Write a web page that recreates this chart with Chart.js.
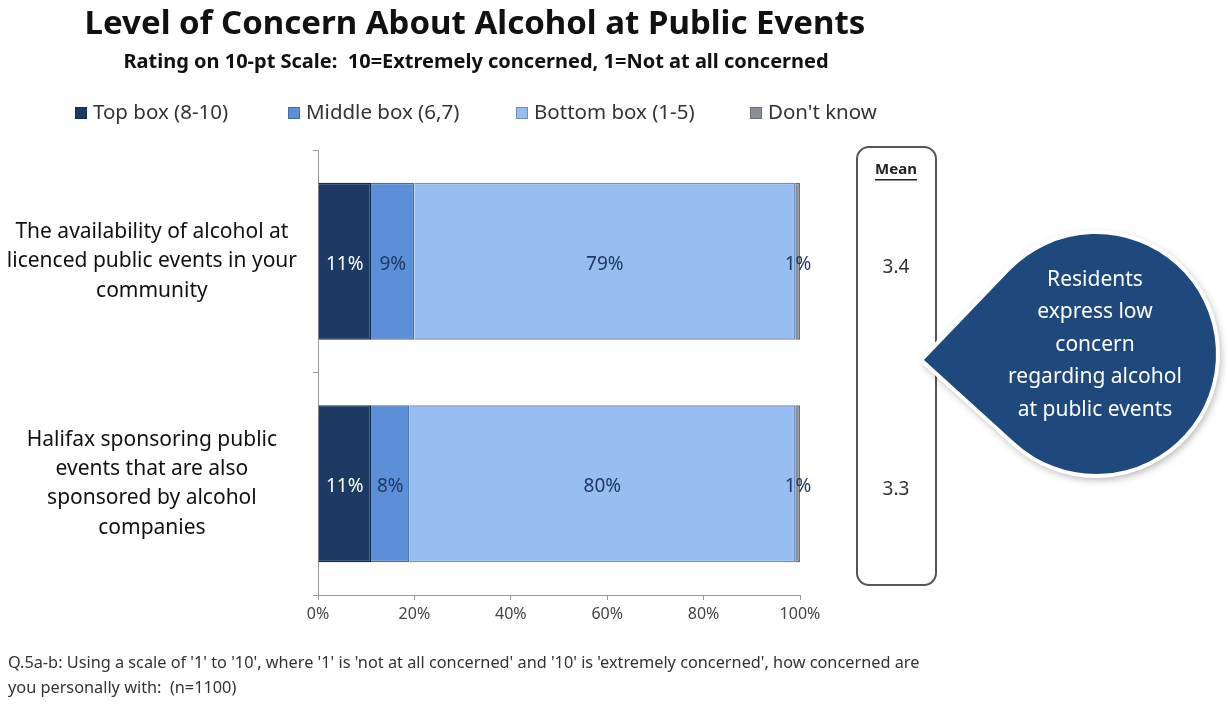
<!DOCTYPE html>
<html lang="en">
<head>
  <meta charset="UTF-8">
  <title>Level of Concern About Alcohol at Public Events</title>
  <style>
    html, body { margin: 0; padding: 0; background: #fff; }
    #wrap { width: 1228px; height: 704px; position: relative; }
  </style>
</head>
<body>
  <div id="wrap">
    <canvas id="myChart" width="1228" height="704"></canvas>
  </div>

  <script src="https://cdn.jsdelivr.net/npm/chart.js"></script>
  <script>
    const categories = [
      ['The availability of alcohol at', 'licenced public events in your', 'community'],
      ['Halifax sponsoring public', 'events that are also', 'sponsored by alcohol', 'companies']
    ]
    const seriesNames = ['Top box (8-10)', 'Middle box (6,7)', 'Bottom box (1-5)', "Don't know"]
    const topBox = [11, 11]
    const middleBox = [9, 8]
    const bottomBox = [79, 80]
    const dontKnow = [1, 1]
    const means = ['3.4', '3.3']
    const xTicks = [0, 20, 40, 60, 80, 100]

    const fills = ['#1c3a64', '#5b8fd8', '#98bdf0', '#8a8f96']
    const borders = ['#142a4a', '#3f6fae', '#6f8fbf', '#6a6f76']
    const labelColors = ['#ffffff', '#1f3864', '#1f3864', '#1f3864']
    const FONT = '"Noto Sans", "Open Sans", sans-serif'

    const decorations = {
      id: 'decorations',
      afterDraw(chart) {
        const ctx = chart.ctx
        const yScale = chart.scales.y
        ctx.save()

        // title + subtitle
        ctx.fillStyle = '#111'
        ctx.textAlign = 'center'
        ctx.textBaseline = 'middle'
        ctx.font = 'bold 33px ' + FONT
        ctx.fillText('Level of Concern About Alcohol at Public Events', 475, 25)
        ctx.font = 'bold 20px ' + FONT
        ctx.fillText('Rating on 10-pt Scale:  10=Extremely concerned, 1=Not at all concerned', 476, 62)

        // legend
        const legendX = [75, 288, 516, 750]
        ctx.font = '20.5px ' + FONT
        ctx.textAlign = 'left'
        seriesNames.forEach((name, i) => {
          ctx.fillStyle = fills[i]
          ctx.fillRect(legendX[i], 107, 12, 12)
          ctx.strokeStyle = borders[i]
          ctx.lineWidth = 1
          ctx.strokeRect(legendX[i] + 0.5, 107.5, 11, 11)
          ctx.fillStyle = '#333'
          ctx.fillText(name, legendX[i] + 18, 113)
        })

        // value labels inside bars
        ctx.font = '19px ' + FONT
        ctx.textAlign = 'center'
        chart.data.datasets.forEach((ds, di) => {
          const meta = chart.getDatasetMeta(di)
          meta.data.forEach((bar, i) => {
            const cx = (bar.x + bar.base) / 2
            ctx.fillStyle = labelColors[di]
            ctx.fillText(ds.data[i] + '%', di === 3 ? bar.x - 2 : cx, bar.y + 3)
          })
        })

        // mean box
        ctx.strokeStyle = '#555'
        ctx.lineWidth = 2
        ctx.beginPath()
        ctx.roundRect(857, 147, 79, 438, 12)
        ctx.stroke()
        ctx.fillStyle = '#222'
        ctx.font = 'bold 15px ' + FONT
        ctx.fillText('Mean', 896, 170)
        const mw = ctx.measureText('Mean').width
        ctx.fillRect(896 - mw / 2, 179, mw, 1.5)
        ctx.font = '19px ' + FONT
        ctx.fillStyle = '#333'
        means.forEach((m, i) => {
          ctx.fillText(m, 896, yScale.getPixelForValue(i) + 6)
        })

        // callout bubble
        const cx = 1096, cy = 354, r = 122
        const tipX = 921, tipY = 360
        const dx = tipX - cx, dy = tipY - cy
        const d = Math.sqrt(dx * dx + dy * dy)
        const theta = Math.atan2(dy, dx)
        const alpha = Math.acos(r / d)
        ctx.beginPath()
        ctx.moveTo(tipX, tipY)
        ctx.lineTo(cx + r * Math.cos(theta - alpha), cy + r * Math.sin(theta - alpha))
        ctx.arc(cx, cy, r, theta - alpha, theta + alpha, true)
        ctx.closePath()
        ctx.shadowColor = 'rgba(0,0,0,0.35)'
        ctx.shadowBlur = 8
        ctx.shadowOffsetX = 2
        ctx.shadowOffsetY = 3
        ctx.fillStyle = '#1f497d'
        ctx.fill()
        ctx.shadowColor = 'transparent'
        ctx.strokeStyle = '#ffffff'
        ctx.lineWidth = 4
        ctx.stroke()

        ctx.fillStyle = '#ffffff'
        ctx.font = '21px ' + FONT
        const lines = ['Residents', 'express low', 'concern', 'regarding alcohol', 'at public events']
        lines.forEach((t, i) => ctx.fillText(t, 1095, 280 + i * 32.5))

        // footnote
        ctx.textAlign = 'left'
        ctx.fillStyle = '#333'
        ctx.font = '16.3px ' + FONT
        ctx.fillText("Q.5a-b: Using a scale of '1' to '10', where '1' is 'not at all concerned' and '10' is 'extremely concerned', how concerned are", 8, 663)
        ctx.fillText('you personally with:  (n=1100)', 8, 688)

        ctx.restore()
      }
    }

    const seriesData = [topBox, middleBox, bottomBox, dontKnow]
    const ctx = document.getElementById('myChart')

    new Chart(ctx, {
      type: 'bar',
      data: {
        labels: categories,
        datasets: seriesNames.map((name, i) => ({
          label: name,
          data: seriesData[i],
          backgroundColor: fills[i],
          borderColor: borders[i],
          borderWidth: 1.5,
          categoryPercentage: 1,
          barPercentage: 0.705
        }))
      },
      options: {
        indexAxis: 'y',
        responsive: false,
        animation: false,
        layout: { padding: { top: 150, right: 428, bottom: 0, left: 0 } },
        plugins: {
          legend: { display: false },
          tooltip: { enabled: false }
        },
        scales: {
          x: {
            stacked: true,
            min: 0,
            max: 100,
            afterFit: (scale) => { scale.height = 109 },
            afterBuildTicks: (scale) => { scale.ticks = xTicks.map(v => ({ value: v })) },
            ticks: {
              callback: (v) => v + '%',
              color: '#444',
              font: { family: FONT, size: 16 },
              padding: 5
            },
            grid: {
              drawOnChartArea: false,
              tickLength: 5,
              color: '#999'
            },
            border: { color: '#999' }
          },
          y: {
            stacked: true,
            afterFit: (scale) => { scale.width = 318 },
            ticks: {
              color: '#111',
              font: { family: FONT, size: 21, lineHeight: 1.4 },
              crossAlign: 'center',
              padding: 16
            },
            grid: {
              offset: true,
              drawOnChartArea: false,
              tickLength: 5,
              color: '#999'
            },
            border: { color: '#999' }
          }
        }
      },
      plugins: [decorations]
    })
  </script>
</body>
</html>
